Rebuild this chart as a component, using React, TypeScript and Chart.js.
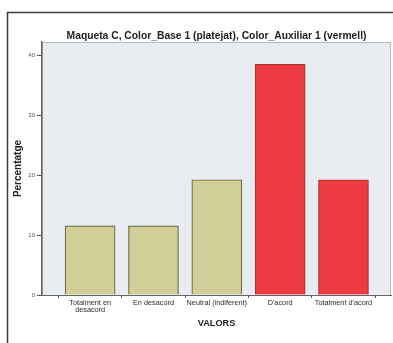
import React, { useEffect, useRef } from "react";
import { Chart, registerables } from "chart.js";
Chart.register(...registerables);

const categories: (string | string[])[] = [
  ["Totalment en", "desacord"],
  "En desacord",
  "Neutral (indiferent)",
  "D'acord",
  "Totalment d'acord",
];
const percentages = [11.54, 11.54, 19.23, 38.46, 19.23];
const barColors = ["#d1ce97", "#d1ce97", "#d1ce97", "#ee3b41", "#ee3b41"];
const borderColors = ["#6c6a4a", "#6c6a4a", "#6c6a4a", "#a83434", "#a83434"];
const yTicks = [0, 10, 20, 30, 40];
const chartTitle = "Maqueta C, Color_Base 1 (platejat), Color_Auxiliar 1 (vermell)";
const FONT = "'Liberation Sans', Arial, sans-serif";

const decor = {
  id: "decor",
  beforeDraw(chart: any) {
    const { ctx, chartArea: a } = chart;
    ctx.save();
    ctx.fillStyle = "#ffffff";
    ctx.fillRect(0, 0, chart.width, chart.height);
    ctx.strokeStyle = "#3c3c3c";
    ctx.lineWidth = 1.5;
    ctx.strokeRect(7.5, 12.5, 420, 420);
    ctx.fillStyle = "#e9ecf1";
    ctx.fillRect(a.left, a.top, a.right - a.left, a.bottom - a.top);
    ctx.strokeStyle = "#b4b8bf";
    ctx.lineWidth = 1;
    ctx.strokeRect(a.left + 0.5, a.top + 0.5, a.right - a.left - 1, a.bottom - a.top);
    ctx.fillStyle = "#222";
    ctx.font = `bold 10.3px ${FONT}`;
    ctx.textAlign = "center";
    ctx.textBaseline = "middle";
    ctx.fillText(chartTitle, (a.left + a.right) / 2, 36);
    ctx.restore();
  },
};

export default function App() {
  const ref = useRef<HTMLCanvasElement>(null);
  useEffect(() => {
    const chart = new Chart(ref.current!, {
      type: "bar",
      data: {
        datasets: [
          {
            data: percentages.map((v, i) => ({ x: i, y: v })),
            backgroundColor: barColors,
            borderColor: borderColors,
            borderWidth: 1.2,
            barThickness: 50,
          } as any,
        ],
      },
      plugins: [decor],
      options: {
        animation: false,
        responsive: false,
        layout: { padding: { top: 42, right: 2, left: 0, bottom: 0 } },
        plugins: { legend: { display: false }, tooltip: { enabled: false } },
        scales: {
          x: {
            type: "linear",
            offset: false,
            min: -0.76,
            max: 4.75,
            afterBuildTicks: (s: any) => {
              s.ticks = categories.map((_, i) => ({ value: i }));
            },
            afterFit: (s: any) => {
              s.height = 48;
            },
            grid: { drawOnChartArea: false, tickLength: 3, color: "#555" },
            border: { display: true, color: "#666", width: 1 },
            ticks: {
              autoSkip: false,
              maxRotation: 0,
              padding: 2,
              color: "#2a2a2a",
              font: { family: FONT, size: 7.3, lineHeight: 0.95 },
              callback: (v: any) => categories[v as number],
            },
            title: {
              display: true,
              text: "VALORS",
              color: "#222",
              font: { family: FONT, size: 9.2, weight: "bold" },
              padding: { top: 0, bottom: 13.6 },
            },
          },
          y: {
            min: 0,
            max: 42.2,
            afterBuildTicks: (s: any) => {
              s.ticks = yTicks.map((v) => ({ value: v }));
            },
            afterFit: (s: any) => {
              s.width = 42;
            },
            grid: { drawOnChartArea: false, tickLength: 5, color: "#555" },
            border: { display: true, color: "#666", width: 1.5 },
            ticks: {
              padding: 2,
              color: "#555",
              font: { family: FONT, size: 6 },
            },
            title: {
              display: true,
              text: "Percentatge",
              color: "#222",
              font: { family: FONT, size: 10, weight: "bold" },
              padding: { top: 12.5, bottom: 0 },
            },
          },
        },
      },
    });
    return () => chart.destroy();
  }, []);
  return (
    <canvas
      ref={ref}
      width={393}
      height={343}
      style={{ position: "absolute", left: 0, top: 0, width: 393, height: 343 }}
    />
  );
}
